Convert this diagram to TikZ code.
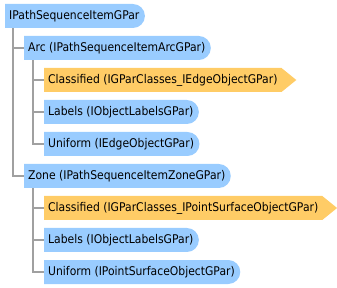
\documentclass[tikz,border=0pt]{standalone}
\usepackage{fontspec}
\setmainfont{DejaVu Sans}[FakeStretch=0.9]
\usetikzlibrary{shapes.misc,shapes.symbols}

\definecolor{ifaceblue}{HTML}{99CCFF}
\definecolor{classorange}{HTML}{FFCC66}
\definecolor{linegray}{HTML}{A0A0A0}

\begin{document}
\begin{tikzpicture}[x=1pt,y=-1pt,
    font=\fontsize{12}{14}\selectfont,
    item/.style={anchor=west,minimum height=24pt,inner xsep=4pt,inner ysep=0pt},
    iface/.style={item,rounded rectangle,rounded rectangle left arc=none,fill=ifaceblue},
    classes/.style={item,signal,signal to=east,signal from=nowhere,signal pointer angle=78,fill=classorange},
    link/.style={draw=linegray,line width=2pt}]

  \useasboundingbox (0,0) rectangle (337,288);

  % tree of items
  \node[iface] (root) at (5,16) {IPathSequenceItemGPar};
  \node[iface] (arc) at (24,48) {Arc (IPathSequenceItemArcGPar)};
  \node[classes] (arcCls) at (44,80) {Classified (IGParClasses\_IEdgeObjectGPar)};
  \node[iface] (arcLbl) at (44,112) {Labels (IObjectLabelsGPar)};
  \node[iface] (arcUni) at (44,144) {Uniform (IEdgeObjectGPar)};
  \node[iface] (zone) at (24,176) {Zone (IPathSequenceItemZoneGPar)};
  \node[classes] (zoneCls) at (44,208) {Classified (IGParClasses\_IPointSurfaceObjectGPar)};
  \node[iface] (zoneLbl) at (44,240) {Labels (IObjectLabelsGPar)};
  \node[iface] (zoneUni) at (44,272) {Uniform (IPointSurfaceObjectGPar)};

  % branches
  \draw[link] ([xshift=8pt]root.south west) |- (arc);
  \draw[link] ([xshift=8pt]root.south west) |- (zone);
  \foreach \kid in {arcCls,arcLbl,arcUni}
    \draw[link] ([xshift=9pt]arc.south west) |- (\kid);
  \foreach \kid in {zoneCls,zoneLbl,zoneUni}
    \draw[link] ([xshift=9pt]zone.south west) |- (\kid);
\end{tikzpicture}
\end{document}
